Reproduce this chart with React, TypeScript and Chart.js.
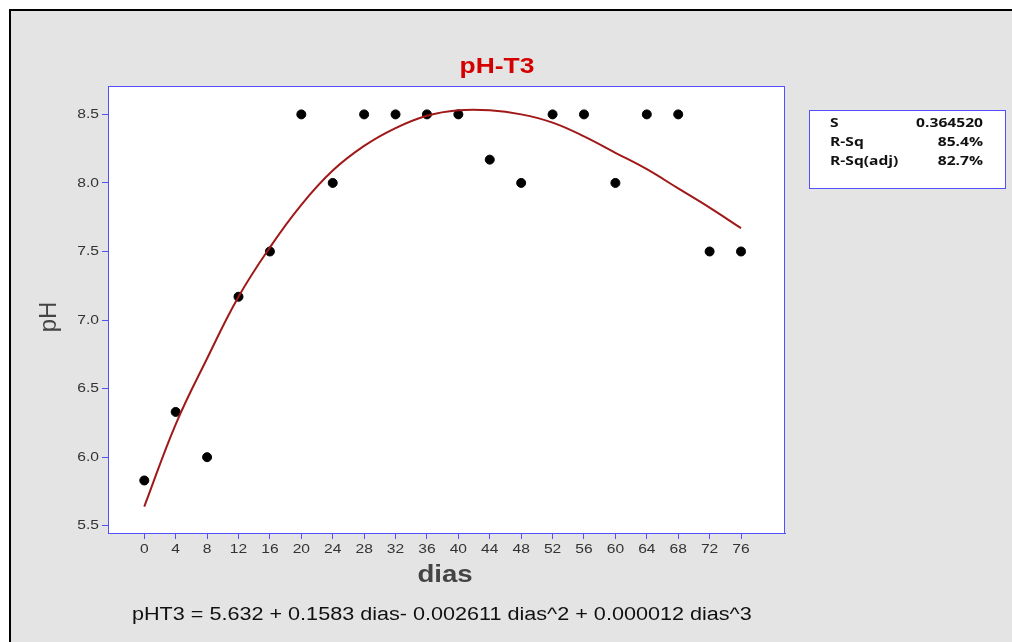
import React, { useEffect, useRef } from "react";
import { Chart, registerables } from "chart.js";

Chart.register(...registerables);

const dias = [0, 4, 8, 12, 16, 20, 24, 28, 32, 36, 40, 44, 48, 52, 56, 60, 64, 68, 72, 76];
const phValues = [5.83, 6.33, 6.0, 7.17, 7.5, 8.5, 8.0, 8.5, 8.5, 8.5, 8.5, 8.17, 8.0, 8.5, 8.5, 8.0, 8.5, 8.5, 7.5, 7.5];
const fitValues = [5.64, 6.24, 6.72, 7.17, 7.53, 7.84, 8.09, 8.27, 8.40, 8.49, 8.53, 8.53, 8.5, 8.44, 8.34, 8.22, 8.1, 7.96, 7.82, 7.67];
const xTicks = [0, 4, 8, 12, 16, 20, 24, 28, 32, 36, 40, 44, 48, 52, 56, 60, 64, 68, 72, 76];
const yTicks = [5.5, 6.0, 6.5, 7.0, 7.5, 8.0, 8.5];
const statLabels = ["S", "R-Sq", "R-Sq(adj)"];
const statValues = ["0.364520", "85.4%", "82.7%"];
const titleText = "pH-T3";
const xTitle = "dias";
const yTitle = "pH";
const equation = "pHT3 = 5.632 + 0.1583 dias- 0.002611 dias^2 + 0.000012 dias^3";

const BLUE = "#5050ff";
const SX = 1.2;
const SANS = "'Liberation Sans', Arial, sans-serif";

function txt(ctx: any, s: string, x: number, y: number, align: string) {
  ctx.save();
  ctx.translate(x, y);
  ctx.scale(SX, 1);
  ctx.textAlign = align;
  ctx.fillText(s, 0, 0);
  ctx.restore();
}

const decor = {
  id: "decor",
  beforeDraw(chart: any) {
    const { ctx, width, height, chartArea } = chart;
    ctx.save();
    ctx.fillStyle = "#ffffff";
    ctx.fillRect(0, 0, width, height);
    ctx.fillStyle = "#e4e4e4";
    ctx.fillRect(10, 10, width - 10, height - 10);
    ctx.strokeStyle = "#000000";
    ctx.lineWidth = 2;
    ctx.beginPath();
    ctx.moveTo(10, height);
    ctx.lineTo(10, 10);
    ctx.lineTo(width, 10);
    ctx.stroke();
    ctx.fillStyle = "#ffffff";
    ctx.fillRect(chartArea.left, chartArea.top, chartArea.right - chartArea.left, chartArea.bottom - chartArea.top);
    ctx.restore();
  },
  afterDraw(chart: any) {
    const { ctx, chartArea, scales } = chart;
    ctx.save();
    ctx.strokeStyle = BLUE;
    ctx.lineWidth = 1;
    ctx.strokeRect(chartArea.left + 0.5, chartArea.top + 0.5, chartArea.right - chartArea.left - 1, chartArea.bottom - chartArea.top);
    ctx.textBaseline = "middle";
    // tick labels
    ctx.fillStyle = "#333333";
    ctx.font = "13px " + SANS;
    xTicks.forEach((v) => {
      txt(ctx, String(v), scales.x.getPixelForValue(v), 549, "center");
    });
    yTicks.forEach((v) => {
      txt(ctx, v.toFixed(1), 99, scales.y.getPixelForValue(v), "right");
    });
    // title
    ctx.fillStyle = "#d40000";
    ctx.font = "bold 22px " + SANS;
    txt(ctx, titleText, 497, 67, "center");
    // axis titles
    ctx.fillStyle = "#444444";
    ctx.font = "bold 23px " + SANS;
    txt(ctx, xTitle, 445, 576, "center");
    ctx.save();
    ctx.translate(49, 317);
    ctx.rotate(-Math.PI / 2);
    ctx.font = "24px " + SANS;
    ctx.textAlign = "center";
    ctx.fillText(yTitle, 0, 0);
    ctx.restore();
    // equation
    ctx.fillStyle = "#111111";
    ctx.font = "18px " + SANS;
    txt(ctx, equation, 132, 615, "left");
    // stats box
    ctx.fillStyle = "#ffffff";
    ctx.fillRect(809, 110, 196, 78);
    ctx.strokeStyle = BLUE;
    ctx.strokeRect(809.5, 110.5, 196, 78);
    ctx.fillStyle = "#111111";
    ctx.font = "bold 13px 'Open Sans', 'DejaVu Sans', sans-serif";
    statLabels.forEach((l, i) => {
      const y = 123 + i * 19;
      txt(ctx, l, 830, y, "left");
      txt(ctx, statValues[i], 983, y, "right");
    });
    ctx.restore();
  },
};

export default function App() {
  const ref = useRef<HTMLCanvasElement>(null);
  useEffect(() => {
    if (!ref.current) return;
    const chart = new Chart(ref.current, {
      type: "scatter",
      data: {
        datasets: [
          {
            type: "line",
            data: dias.map((d, i) => ({ x: d, y: fitValues[i] })),
            borderColor: "#a01818",
            borderWidth: 2,
            pointRadius: 0,
            tension: 0.4,
            fill: false,
          } as any,
          {
            type: "scatter",
            data: dias.map((d, i) => ({ x: d, y: phValues[i] })),
            backgroundColor: "#000000",
            borderColor: "#000000",
            pointRadius: 4.5,
          },
        ],
      },
      plugins: [decor],
      options: {
        animation: false,
        responsive: false,
        devicePixelRatio: 1,
        layout: { padding: { left: 0, top: 86, right: 227, bottom: 0 } },
        plugins: { legend: { display: false }, tooltip: { enabled: false }, title: { display: false } },
        scales: {
          x: {
            type: "linear",
            min: -4.62,
            max: 81.6,
            afterBuildTicks: (s: any) => {
              s.ticks = xTicks.map((v) => ({ value: v }));
            },
            afterFit: (s: any) => {
              s.height = 109;
            },
            grid: { drawOnChartArea: false, drawTicks: true, tickLength: 6, color: BLUE },
            border: { color: BLUE },
            ticks: { display: false, autoSkip: false },
          },
          y: {
            type: "linear",
            min: 5.447,
            max: 8.707,
            afterBuildTicks: (s: any) => {
              s.ticks = yTicks.map((v) => ({ value: v }));
            },
            afterFit: (s: any) => {
              s.width = 108;
            },
            grid: { drawOnChartArea: false, drawTicks: true, tickLength: 6, color: BLUE },
            border: { color: BLUE },
            ticks: { display: false, autoSkip: false },
          },
        },
      },
    });
    return () => chart.destroy();
  }, []);
  return (
    <div style={{ position: "fixed", left: 0, top: 0, width: 1012, height: 642 }}>
      <canvas ref={ref} width={1012} height={642} style={{ width: 1012, height: 642 }} />
    </div>
  );
}
